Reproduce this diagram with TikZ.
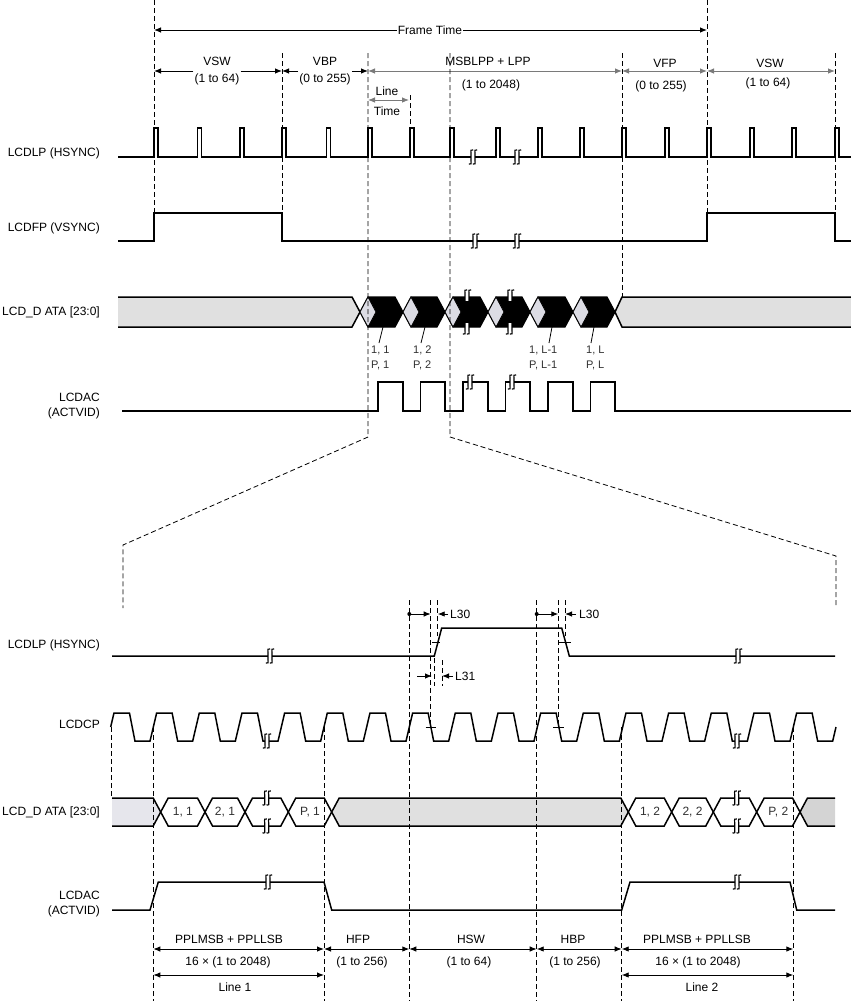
\documentclass[tikz,border=0pt]{standalone}
\usepackage{fontspec}
\setmainfont{Liberation Sans}
\usetikzlibrary{arrows.meta}
\definecolor{dgray}{HTML}{7A7A7A}
\definecolor{fillgray}{HTML}{E0E0E0}
\definecolor{fillblue}{HTML}{E6E6EC}
\definecolor{fillgray2}{HTML}{D4D4D4}
\definecolor{diagray}{HTML}{DCDCE4}
\definecolor{txtgray}{HTML}{303030}
\tikzset{
  wave/.style={line width=1.5pt, line join=miter},
  guide/.style={dash pattern=on 5pt off 3pt, line width=0.8pt},
  dimarr/.style={line width=0.9pt, {Latex[length=7pt,width=5.5pt]}-{Latex[length=7pt,width=5.5pt]}},
  onearr/.style={line width=0.9pt, -{Latex[length=7pt,width=5.5pt]}},
  gdim/.style={dimarr, draw=dgray, color=dgray},
  lbl/.style={anchor=east, inner sep=0pt, align=right},
  txt/.style={inner sep=0pt, text=txtgray},
  brk/.pic={
    \fill[white] (-2,-4) rectangle (2,4);
    \draw[line width=1.2pt] (0.2,-7) .. controls (-2.3,-7.5) .. (-2,-2.5) -- (-2,2.5) .. controls (-1.7,7.5) .. (-4.2,7);
    \draw[line width=1.2pt] (4.2,-7) .. controls (1.7,-7.5) .. (2,-2.5) -- (2,2.5) .. controls (2.3,7.5) .. (-0.2,7);
  }
}
\newcommand\dataseg[5]{%
  \filldraw[fill=#3, wave] (#1,812) -- (#1+7.5,798) -- (#2-7.5,798) -- (#2,812) -- (#2-7.5,826) -- (#1+7.5,826) -- cycle;
  \node[txt] (#5) at ({(#1+#2)/2},812) {#4};
}
\newcommand\hexcell[2]{%
  \filldraw[fill=black, line width=1.2pt, line join=miter] (#1,312) -- (#1+8,297) -- (#2-8,297) -- (#2,312) -- (#2-8,327) -- (#1+8,327) -- cycle;
  \filldraw[fill=diagray, draw=black, line width=0.8pt] (#1,312) -- (#1+8,297) -- (#1+16,312) -- (#1+8,327) -- cycle;
}
\begin{document}
\begin{tikzpicture}[x=1pt,y=-1pt,font=\fontsize{12}{14.5}\selectfont]
\useasboundingbox (0,0) rectangle (851,1001);

% ---------- left labels ----------
\node[lbl] (tlp) at (100,153) {LCDLP (HSYNC)};
\node[lbl] (tfp) at (100,228) {LCDFP (VSYNC)};
\node[lbl] (tda) at (100,312) {LCD\_D ATA [23:0]};
\node[lbl] (tac) at (100,406) {LCDAC\\(ACTVID)};
\node[lbl] (blp) at (100,645) {LCDLP (HSYNC)};
\node[lbl] (bcp) at (100,724) {LCDCP};
\node[lbl] (bda) at (100,812) {LCD\_D ATA [23:0]};
\node[lbl] (bac) at (100,904) {LCDAC\\(ACTVID)};

% ---------- top dimensions ----------
\coordinate (f0) at (154,30); \coordinate (f1) at (707,30);
\node[fill=white, inner sep=1pt] (ft) at (430,30) {Frame Time};
\draw[onearr] (ft.west) -- (f0);
\draw[onearr] (ft.east) -- (f1);

\coordinate (d0) at (154,71); \coordinate (d1) at (282,71); \coordinate (d2) at (368,71);
\coordinate (d3) at (622,71); \coordinate (d4) at (707,71); \coordinate (d5) at (835,71);
\node[fill=white, inner sep=1pt, align=center, font=\fontsize{12}{17}\selectfont] (vsw) at (217,71.5) {VSW\\(1 to 64)};
\node[fill=white, inner sep=1pt, align=center, font=\fontsize{12}{17}\selectfont] (vbp) at (325,71.5) {VBP\\(0 to 255)};
\draw[onearr] (vsw.west|-d0) -- (d0);
\draw[onearr] (vsw.east|-d0) -- (d1);
\draw[onearr] (vbp.west|-d0) -- (d1);
\draw[onearr] (vbp.east|-d0) -- (d2);
\draw[gdim] (d2) -- (d3);
\draw[gdim] (d3) -- (d4);
\draw[gdim] (d4) -- (d5);
\node[inner sep=0pt] (msb) at (488,61) {MSBLPP + LPP};
\node[inner sep=0pt] (msb2) at (491,85) {(1 to 2048)};
\node[inner sep=0pt] (vfp) at (665,63) {VFP};
\node[inner sep=0pt] (vfp2) at (661,86) {(0 to 255)};
\node[inner sep=0pt] (vsw3) at (770,63) {VSW};
\node[inner sep=0pt] (vsw4) at (768,83) {(1 to 64)};
\coordinate (lt0) at (368,100); \coordinate (lt1) at (409,100);
\draw[gdim, line width=0.8pt] (lt0) -- (lt1);
\node[inner sep=0pt] (lineA) at (387,91.5) {Line};
\node[inner sep=0pt] (lineB) at (387,111) {Time};

% ---------- top waveforms ----------
\draw[wave] (118,157) \foreach \p in {154,197.5,240,282,326.5,368,410,450,496,538,580,622,665,707,750,792,835}{ -- (\p,157) -- (\p,128) -- (\p+4,128) -- (\p+4,157)} -- (851,157);
\pic at (473,157) {brk};
\pic at (517,157) {brk};

\draw[wave] (118,241) -- (154,241) -- (154,213) -- (282,213) -- (282,241) -- (707,241) -- (707,213) -- (835,213) -- (835,241) -- (851,241);
\pic at (475,241) {brk};
\pic at (517,241) {brk};

% data bar top
\fill[fillgray] (118,297) -- (352,297) -- (360,312) -- (352,327) -- (118,327) -- cycle;
\draw[wave] (118,297) -- (352,297) -- (360,312) -- (352,327) -- (118,327);
\fill[fillgray] (851,297) -- (622,297) -- (615,312) -- (622,327) -- (851,327) -- cycle;
\draw[wave] (851,297) -- (622,297) -- (615,312) -- (622,327) -- (851,327);
\hexcell{360}{403}
\hexcell{403}{445}
\hexcell{445}{488}
\hexcell{488}{530}
\hexcell{530}{573}
\hexcell{573}{615}
\pic at (467,297) {brk};
\pic at (467,327) {brk};
\pic at (510,297) {brk};
\pic at (510,327) {brk};

\begin{scope}[font=\fontsize{11}{15}\selectfont]
\node[txt, anchor=west, align=left] (p1) at (371,358) {1, 1\\P, 1};
\node[txt, anchor=west, align=left] (p2) at (413,358) {1, 2\\P, 2};
\node[txt, anchor=west, align=left] (p3) at (529,358) {1, L-1\\P, L-1};
\node[txt, anchor=west, align=left] (p4) at (586,358) {1, L\\P, L};
\end{scope}
\draw[line width=0.8pt] (383,327) -- (379,343);
\draw[line width=0.8pt] (425,327) -- (421,343);
\draw[line width=0.8pt] (552,327) -- (549,343);
\draw[line width=0.8pt] (594,327) -- (591,343);

\draw[wave] (122,411) -- (378,411) -- (378,382) -- (403,382) -- (403,411) -- (420.5,411) -- (420.5,382) -- (445,382) -- (445,411) -- (463,411) -- (463,382) -- (488,382) -- (488,411) -- (505.5,411) -- (505.5,382) -- (530,382) -- (530,411) -- (548,411) -- (548,382) -- (573,382) -- (573,411) -- (590.5,411) -- (590.5,382) -- (615,382) -- (615,411) -- (851,411);
\pic at (470,382) {brk};
\pic at (512,382) {brk};

% ---------- bottom waveforms ----------
\draw[wave] (112,656) -- (434.3,656) -- (441.7,628) -- (561.7,628) -- (569.3,656) -- (835,656);
\pic at (270,656) {brk};
\pic at (738,656) {brk};
\draw[line width=0.8pt] (432,642) -- (440,642);
\draw[line width=0.8pt] (558,642) -- (571,642);

% clock
\draw[wave] (110.67,727) -- (113.97,713)
  \foreach \k in {-1,0,...,14}{
    -- ({153.33+42.667*\k+18.8},713)
    -- ({153.33+42.667*\k+24.3},741)
    -- ({153.33+42.667*(\k+1)-3.3},741)
    -- ({153.33+42.667*(\k+1)+3.3},713)
  }
  -- ({793.33+18.8},713) -- ({793.33+24.3},741) -- ({836-3.3},741) -- (836,727);
\pic at (267,741) {brk};
\pic at (737,741) {brk};
\draw[line width=0.8pt] (425.5,727) -- (436,727);
\draw[line width=0.8pt] (553,727) -- (563.5,727);

% data bar bottom
\fill[fillblue] (112,798) -- (153.2,798) -- (160.7,812) -- (153.2,826) -- (112,826) -- cycle;
\draw[wave] (112,798) -- (153.2,798) -- (160.7,812) -- (153.2,826) -- (112,826);
\dataseg{160.7}{205}{white}{1, 1}{e1}
\dataseg{205}{245}{white}{2, 1}{e2}
\dataseg{245}{288.3}{white}{}{e3}
\dataseg{288.3}{331.7}{white}{P, 1}{e4}
\dataseg{331.7}{628.3}{fillgray}{}{e5}
\dataseg{628.3}{671.7}{white}{1, 2}{e6}
\dataseg{671.7}{713.3}{white}{2, 2}{e7}
\dataseg{713.3}{756.7}{white}{}{e8}
\dataseg{756.7}{800}{white}{P, 2}{e9}
\fill[fillgray2] (835,798) -- (807.5,798) -- (800,812) -- (807.5,826) -- (835,826) -- cycle;
\draw[wave] (835,798) -- (807.5,798) -- (800,812) -- (807.5,826) -- (835,826);
\pic at (266.7,798) {brk};
\pic at (266.7,826) {brk};
\pic at (736.7,798) {brk};
\pic at (736.7,826) {brk};

\draw[wave] (112,910) -- (150,910) -- (158.3,882) -- (324,882) -- (331.7,910) -- (621.7,910) -- (630,882) -- (790,882) -- (796.7,910) -- (835,910);
\pic at (268,882) {brk};
\pic at (737,882) {brk};

% ---------- L30 / L31 ----------
\coordinate (a0) at (409.3,614); \coordinate (a1) at (430.7,614);
\coordinate (a2) at (448,614);   \coordinate (a3) at (437.7,614);
\fill (a0) circle[radius=2pt];
\draw[onearr] (a0) -- (a1);
\draw[onearr] (a2) -- (a3);
\node[anchor=west, inner sep=0pt] (l30a) at (450,614) {L30};
\coordinate (b0) at (536.7,614); \coordinate (b1) at (558.3,614);
\coordinate (b2) at (576,614);   \coordinate (b3) at (565,614);
\fill (b0) circle[radius=2pt];
\draw[onearr] (b0) -- (b1);
\draw[onearr] (b2) -- (b3);
\node[anchor=west, inner sep=0pt] (l30b) at (579,614) {L30};
\coordinate (c0) at (417,676); \coordinate (c1) at (432,676);
\coordinate (c2) at (453,676); \coordinate (c3) at (442,676);
\draw[onearr] (c0) -- (c1);
\draw[onearr] (c2) -- (c3);
\node[anchor=west, inner sep=0pt] (l31) at (455,676) {L31};

% ---------- bottom dimensions ----------
\coordinate (h0) at (153.3,949); \coordinate (h1) at (324,949); \coordinate (h2) at (409.3,949);
\coordinate (h3) at (536.7,949); \coordinate (h4) at (621.7,949); \coordinate (h5) at (793.3,949);
\draw[dimarr] (h0) -- (h1);
\draw[dimarr] (h1) -- (h2);
\draw[dimarr] (h2) -- (h3);
\draw[dimarr] (h3) -- (h4);
\draw[dimarr] (h4) -- (h5);
\coordinate (k0) at (153.3,975); \coordinate (k1) at (324,975);
\coordinate (k2) at (621.7,975); \coordinate (k3) at (793.3,975);
\draw[dimarr] (k0) -- (k1);
\draw[dimarr] (k2) -- (k3);
\node[inner sep=0pt] (t1) at (229,939) {PPLMSB + PPLLSB};
\node[inner sep=0pt] (t2) at (358,939) {HFP};
\node[inner sep=0pt] (t3) at (471,939) {HSW};
\node[inner sep=0pt] (t4) at (573,939) {HBP};
\node[inner sep=0pt] (t5) at (697,939) {PPLMSB + PPLLSB};
\node[inner sep=0pt] (u1) at (228,962) {16 × (1 to 2048)};
\node[inner sep=0pt] (u2) at (362,962) {(1 to 256)};
\node[inner sep=0pt] (u3) at (469,962) {(1 to 64)};
\node[inner sep=0pt] (u4) at (575,962) {(1 to 256)};
\node[inner sep=0pt] (u5) at (698,962) {16 × (1 to 2048)};
\node[inner sep=0pt] (w1) at (235,987) {Line 1};
\node[inner sep=0pt] (w2) at (702,987) {Line 2};

% ---------- guides ----------
\draw[guide] (154,0) -- (154,213);
\draw[guide] (282,53) -- (282,213);
\draw[guide] (368,53) -- (368,437) -- (123,545) -- (123,608);
\draw[guide] (410,95) -- (410,127);
\draw[guide] (450,53) -- (450,437) -- (836,556) -- (836,608);
\draw[guide] (622,53) -- (622,297);
\draw[guide] (707,0) -- (707,213);
\draw[guide] (835,53) -- (835,213);

\draw[guide] (409.3,600) -- (409.3,1001);
\draw[guide] (430.7,600) -- (430.7,727);
\draw[guide] (437.7,600) -- (437.7,636);
\draw[guide] (434.3,658) -- (434.3,686);
\draw[guide] (442,660) -- (442,686);
\draw[guide] (536.7,600) -- (536.7,1001);
\draw[guide] (558.3,600) -- (558.3,727);
\draw[guide] (565,600) -- (565,636);
\draw[guide] (111.7,727) -- (111.7,798);
\draw[guide] (153.3,727) -- (153.3,1001);
\draw[guide] (324,727) -- (324,1001);
\draw[guide] (621.7,727) -- (621.7,1001);
\draw[guide] (793.3,727) -- (793.3,1001);
\end{tikzpicture}
\end{document}
